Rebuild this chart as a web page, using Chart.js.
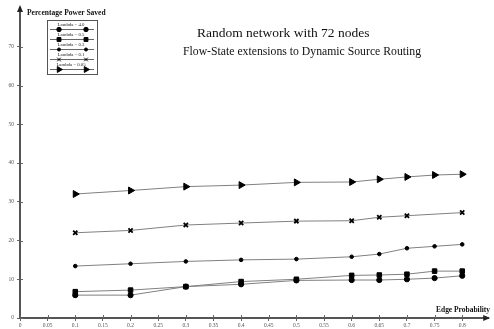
<!DOCTYPE html>
<html>
<head>
<meta charset="utf-8">
<script src="https://cdn.jsdelivr.net/npm/chart.js@4/dist/chart.umd.min.js"></script>
<style>
html,body{margin:0;padding:0;background:#fff;}
#wrap{width:494px;height:329px;position:relative;}
</style>
</head>
<body>
<div id="wrap"><canvas id="c" width="494" height="329"></canvas></div>
<script>
// ---- data ----
const seriesLabels = ["Lambda = 4.0", "Lambda = 0.5", "Lambda = 0.3", "Lambda = 0.1", "Lambda = 0.05"];
const xFull = [0.1, 0.2, 0.3, 0.4, 0.5, 0.6, 0.65, 0.7, 0.75, 0.8];
const xNo75 = [0.1, 0.2, 0.3, 0.4, 0.5, 0.6, 0.65, 0.7, 0.8];
const lambda40 = [5.9, 5.9, 8.1, 8.7, 9.7, 9.8, 9.8, 10.0, 10.3, 10.9];
const lambda05 = [6.8, 7.2, 8.1, 9.4, 10.0, 11.0, 11.1, 11.3, 12.1, 12.1];
const lambda03 = [13.4, 14.0, 14.6, 15.0, 15.2, 15.8, 16.5, 18.0, 18.5, 19.0];
const lambda01 = [22.0, 22.6, 24.0, 24.5, 25.0, 25.1, 26.0, 26.4, 27.2];
const lambda005 = [32.0, 32.9, 33.9, 34.3, 35.0, 35.1, 35.8, 36.4, 36.9, 37.1];
const xTicks = [0, 0.05, 0.1, 0.15, 0.2, 0.25, 0.3, 0.35, 0.4, 0.45, 0.5, 0.55, 0.6, 0.65, 0.7, 0.75, 0.8];
const xTickLabels = ["0","0.05","0.1","0.15","0.2","0.25","0.3","0.35","0.4","0.45","0.5","0.55","0.6","0.65","0.7","0.75","0.8"];
const yTicks = [0, 10, 20, 30, 40, 50, 60, 70];
const titleLines = ["Random network with 72 nodes", "Flow-State extensions to Dynamic Source Routing"];
const yAxisTitle = "Percentage Power Saved";
const xAxisTitle = "Edge Probability";

const pts = (xs, ys) => xs.map((x, i) => ({x: x, y: ys[i]}));

const lineColor = '#808080';
const mk = '#000';
const datasets = [
  {label: seriesLabels[0], data: pts(xFull, lambda40), pointStyle: 'circle', pointRadius: 2.6, pointRotation: 0},
  {label: seriesLabels[1], data: pts(xFull, lambda05), pointStyle: 'rect', pointRadius: 3.2, pointRotation: 0},
  {label: seriesLabels[2], data: pts(xFull, lambda03), pointStyle: 'circle', pointRadius: 1.8, pointRotation: 0},
  {label: seriesLabels[3], data: pts(xNo75, lambda01), pointStyle: 'crossRot', pointRadius: 3, pointRotation: 0, pointBorderWidth: 1.8},
  {label: seriesLabels[4], data: pts(xFull, lambda005), pointStyle: 'triangle', pointRadius: 4, pointRotation: 90}
].map(d => Object.assign({
  borderColor: lineColor, borderWidth: 1, backgroundColor: mk,
  pointBackgroundColor: mk, pointBorderColor: mk, pointBorderWidth: d.pointBorderWidth || 1,
  tension: 0, fill: false
}, d));

const serif = '"Liberation Serif", "Times New Roman", serif';

const deco = {
  id: 'deco',
  afterDraw(chart) {
    const ctx = chart.ctx;
    const xs = chart.scales.x, ys = chart.scales.y;
    const x0 = xs.left, y0 = ys.bottom;
    ctx.save();
    // inner tick marks
    ctx.strokeStyle = '#666'; ctx.lineWidth = 1;
    xTicks.forEach(v => {
      const px = Math.round(xs.getPixelForValue(v)) + 0.5;
      ctx.beginPath(); ctx.moveTo(px, y0 - 3); ctx.lineTo(px, y0); ctx.stroke();
    });
    yTicks.forEach(v => {
      const py = Math.round(ys.getPixelForValue(v)) + 0.5;
      ctx.beginPath(); ctx.moveTo(x0, py); ctx.lineTo(x0 + 3, py); ctx.stroke();
    });
    // arrows
    ctx.fillStyle = '#222';
    ctx.beginPath();
    ctx.moveTo(x0, ys.top - 3); ctx.lineTo(x0 - 3, ys.top + 4); ctx.lineTo(x0 + 3, ys.top + 4); ctx.closePath(); ctx.fill();
    ctx.beginPath();
    ctx.moveTo(xs.right + 2, y0); ctx.lineTo(xs.right - 5, y0 - 3); ctx.lineTo(xs.right - 5, y0 + 3); ctx.closePath(); ctx.fill();
    // titles
    ctx.fillStyle = '#111';
    ctx.font = '13.5px ' + serif;
    ctx.textBaseline = 'middle';
    ctx.textAlign = 'left';
    ctx.fillText(titleLines[0], 197, 33, 175);
    ctx.fillText(titleLines[1], 183, 51, 238);
    ctx.font = 'bold 7.5px ' + serif;
    ctx.fillText(yAxisTitle, 27, 13, 81);
    ctx.textAlign = 'right';
    ctx.fillText(xAxisTitle, 490, 310, 54);
    // legend
    const lx = 47, ly = 20, lw = 50, lh = 54;
    ctx.fillStyle = '#fff';
    ctx.fillRect(lx, ly, lw, lh);
    ctx.strokeStyle = '#555'; ctx.lineWidth = 1;
    ctx.strokeRect(lx + 0.5, ly + 0.5, lw, lh);
    datasets.forEach((d, i) => {
      const ty = ly + 4.5 + i * 10;
      ctx.fillStyle = '#222';
      ctx.font = '4.8px ' + serif;
      ctx.textAlign = 'center';
      ctx.textBaseline = 'middle';
      ctx.fillText(d.label, lx + lw / 2 - 1, ty);
      const lineY = ly + 9.5 + i * 10;
      ctx.strokeStyle = '#666'; ctx.lineWidth = 1;
      ctx.beginPath(); ctx.moveTo(lx + 3, lineY); ctx.lineTo(lx + lw - 3, lineY); ctx.stroke();
      ctx.fillStyle = mk; ctx.strokeStyle = mk;
      [lx + 12, lx + 39].forEach(px => {
        Chart.helpers.drawPoint(ctx, {
          pointStyle: d.pointStyle, radius: d.pointRadius * 0.85, rotation: d.pointRotation, borderWidth: d.pointBorderWidth
        }, px, lineY);
      });
    });
    ctx.restore();
  }
};

new Chart(document.getElementById('c'), {
  type: 'line',
  data: {datasets: datasets},
  options: {
    responsive: false,
    animation: false,
    devicePixelRatio: 1,
    layout: {padding: {top: 8, right: 2, left: 0, bottom: 0}},
    plugins: {legend: {display: false}, tooltip: {enabled: false}, title: {display: false}},
    scales: {
      x: {
        type: 'linear', min: 0, max: 0.847,
        afterBuildTicks: s => { s.ticks = xTicks.map(v => ({value: v})); },
        afterFit: s => { s.height = 11; },
        ticks: {
          autoSkip: false, maxRotation: 0, padding: 1,
          font: {family: serif, size: 5.5}, color: '#555',
          callback: (v) => { const i = xTicks.indexOf(v); return i >= 0 ? xTickLabels[i] : ''; }
        },
        grid: {drawOnChartArea: false, tickLength: 3, color: '#666'},
        border: {color: '#555', width: 2}
      },
      y: {
        type: 'linear', min: 0, max: 80,
        afterBuildTicks: s => { s.ticks = yTicks.map(v => ({value: v})); },
        afterFit: s => { s.width = 20; },
        ticks: {font: {family: serif, size: 5.5}, color: '#555', padding: 3},
        grid: {drawOnChartArea: false, tickLength: 3, color: '#666'},
        border: {color: '#555', width: 2}
      }
    }
  },
  plugins: [deco]
});
</script>
</body>
</html>
